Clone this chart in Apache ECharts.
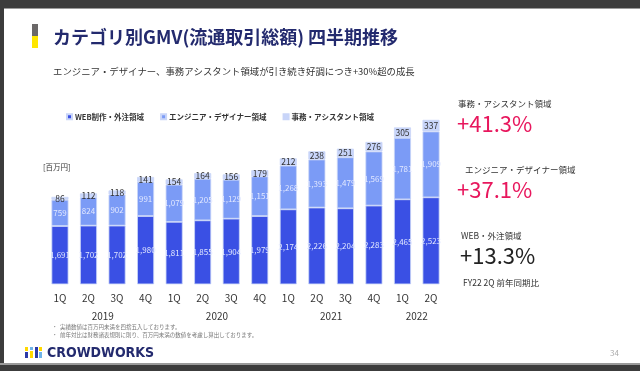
<!DOCTYPE html>
<html>
<head>
<meta charset="utf-8">
<script src="https://cdn.jsdelivr.net/npm/echarts@6/dist/echarts.min.js"></script>
<style>
html,body{margin:0;padding:0;background:#fff;}
#c{width:640px;height:371px;}
</style>
</head>
<body>
<div id="c"></div>
<script>
const quarters = ['1Q','2Q','3Q','4Q','1Q','2Q','3Q','4Q','1Q','2Q','3Q','4Q','1Q','2Q'];
const yearLabels = {1.5:'2019', 5.5:'2020', 9.5:'2021', 12.5:'2022'};
const webValues = [1691,1702,1702,1980,1811,1855,1904,1979,2174,2226,2204,2283,2465,2523];
const engineerValues = [759,824,902,991,1079,1205,1129,1151,1268,1393,1479,1569,1781,1909];
const officeValues = [86,112,118,141,154,164,156,179,212,238,251,276,305,337];
const seriesNames = ['WEB制作・外注領域','エンジニア・デザイナー領域','事務・アシスタント領域'];

const FONT = '"Noto Sans CJK JP","Noto Sans",sans-serif';
const fmt = v => v.value.toLocaleString('en-US');
const chart = echarts.init(document.getElementById('c'), null, {renderer:'canvas'});

function txt(x, y, text, size, color, weight, extra) {
  return Object.assign({
    type:'text', left:x, top:y,
    style:{text:text, font:(weight||'normal')+' '+size+'px '+FONT, fill:color, textVerticalAlign:'middle'}
  }, extra||{});
}

const graphics = [
  {type:'rect', shape:{x:0,y:0,width:640,height:8}, style:{fill:'#3c3c3c'}},
  {type:'rect', shape:{x:0,y:8,width:640,height:1}, style:{fill:'#9a9a9a'}},
  {type:'rect', shape:{x:0,y:0,width:4,height:371}, style:{fill:'#3c3c3c'}},
  {type:'rect', shape:{x:0,y:363,width:640,height:2}, style:{fill:'#9a9a9a'}},
  {type:'rect', shape:{x:0,y:365,width:640,height:6}, style:{fill:'#3c3c3c'}},
  {type:'rect', shape:{x:32,y:24,width:6,height:12}, style:{fill:'#6b6868'}},
  {type:'rect', shape:{x:32,y:36,width:6,height:12}, style:{fill:'#ffe600'}},
  {type:'text', x:53, y:37, style:{text:'カテゴリ別GMV(流通取引総額) 四半期推移', font:'bold 18px '+FONT, fill:'#232a6e', textVerticalAlign:'middle'}},
  {type:'text', x:53, y:71, style:{text:'エンジニア・デザイナー、事務アシスタント領域が引き続き好調につき+30%超の成長', font:'normal 9.4px '+FONT, fill:'#333', textVerticalAlign:'middle'}},
  {type:'text', x:43, y:167, style:{text:'[百万円]', font:'normal 7.5px '+FONT, fill:'#333', textVerticalAlign:'middle'}},
  {type:'text', x:458, y:104, style:{text:'事務・アシスタント領域', font:'normal 8.5px '+FONT, fill:'#333', textVerticalAlign:'middle'}},
  {type:'text', x:457, y:124, style:{text:'+41.3%', font:'normal 22px '+FONT, fill:'#e8175d', textVerticalAlign:'middle'}},
  {type:'text', x:465, y:170, style:{text:'エンジニア・デザイナー領域', font:'normal 8.5px '+FONT, fill:'#333', textVerticalAlign:'middle'}},
  {type:'text', x:457, y:190, style:{text:'+37.1%', font:'normal 22px '+FONT, fill:'#e8175d', textVerticalAlign:'middle'}},
  {type:'text', x:461, y:236, style:{text:'WEB・外注領域', font:'normal 8.5px '+FONT, fill:'#333', textVerticalAlign:'middle'}},
  {type:'text', x:460, y:256, style:{text:'+13.3%', font:'normal 22px '+FONT, fill:'#222', textVerticalAlign:'middle'}},
  {type:'text', x:463, y:283, style:{text:'FY22 2Q 前年同期比', font:'normal 8.5px '+FONT, fill:'#333', textVerticalAlign:'middle'}},
  {type:'text', x:52, y:327, style:{text:'・  実績数値は百万円未満を四捨五入しております。', font:'normal 5.5px '+FONT, fill:'#777', textVerticalAlign:'middle'}},
  {type:'text', x:52, y:335, style:{text:'・  前年対比は財務諸表規則に則り、百万円未満の数値を考慮し算出しております。', font:'normal 5.5px '+FONT, fill:'#777', textVerticalAlign:'middle'}},
  {type:'rect', shape:{x:25,y:347,width:3,height:4}, style:{fill:'#ffd800'}},
  {type:'rect', shape:{x:25,y:352,width:3,height:6}, style:{fill:'#2c3aa8'}},
  {type:'rect', shape:{x:30,y:347,width:3,height:3}, style:{fill:'#6fb4e8'}},
  {type:'rect', shape:{x:30,y:351,width:3,height:7}, style:{fill:'#ffd800'}},
  {type:'rect', shape:{x:35,y:347,width:3,height:11}, style:{fill:'#2c3aa8'}},
  {type:'rect', shape:{x:39,y:347,width:3,height:4}, style:{fill:'#ffd800'}},
  {type:'rect', shape:{x:39,y:352,width:3,height:6}, style:{fill:'#6fb4e8'}},
  {type:'text', x:47, y:353, style:{text:'CROWDWORKS', font:'bold 14px "DejaVu Sans Condensed","Liberation Sans Narrow",sans-serif', fill:'#232a6e', textVerticalAlign:'middle'}},
  {type:'text', x:610, y:353, style:{text:'34', font:'normal 8px '+FONT, fill:'#aaa', textVerticalAlign:'middle'}}
];

const labelInside = {show:true, position:'inside', color:'#e2e8ff', fontSize:8, fontFamily:FONT, formatter:fmt};
const border = {borderColor:'#c9d5f8', borderWidth:0.8};

chart.setOption({
  animation:false,
  backgroundColor:'#fff',
  textStyle:{fontFamily:FONT},
  legend:{
    left:61, top:108, itemWidth:5, itemHeight:5, itemGap:16, icon:'rect',
    textStyle:{fontSize:7.5, fontWeight:'bold', color:'#333', fontFamily:FONT, padding:[0,0,0,-2]},
    data:seriesNames
  },
  grid:{left:45.7, right:194.7, top:111.9, bottom:86.7, containLabel:false},
  xAxis:[{
    type:'category', data:quarters,
    axisLine:{show:false}, axisTick:{show:false},
    axisLabel:{color:'#333', fontSize:10, margin:9, fontFamily:FONT}
  },{
    type:'value', position:'bottom', offset:18, min:-0.5, max:13.5, interval:1,
    axisLine:{show:false}, axisTick:{show:false}, splitLine:{show:false},
    axisLabel:{color:'#333', fontSize:10, margin:9, fontFamily:FONT, showMinLabel:true, showMaxLabel:true,
      formatter:v => yearLabels[v] || ''}
  }],
  yAxis:{type:'value', min:0, max:5000, show:false, splitLine:{show:false}},
  series:[
    {name:seriesNames[0], type:'bar', stack:'gmv', barWidth:17, data:webValues,
     itemStyle:Object.assign({color:'#3a50e4'}, border), label:labelInside},
    {name:seriesNames[1], type:'bar', stack:'gmv', barWidth:17, data:engineerValues,
     itemStyle:Object.assign({color:'#7b9bf6'}, border), label:labelInside},
    {name:seriesNames[2], type:'bar', stack:'gmv', barWidth:17, data:officeValues,
     itemStyle:Object.assign({color:'#c8d5fa'}, border),
     label:{show:true, position:'inside', color:'#333', fontSize:8.5, fontFamily:FONT, formatter:fmt}}
  ],
  graphic:graphics
});
</script>
</body>
</html>
